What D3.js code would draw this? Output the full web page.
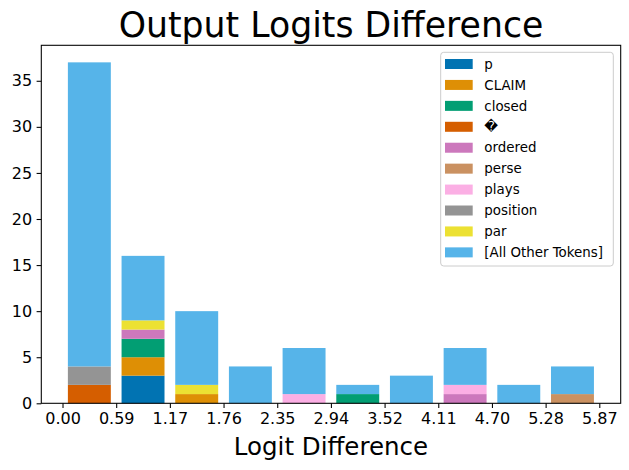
<!DOCTYPE html>
<html>
<head>
<meta charset="utf-8">
<script src="https://cdn.jsdelivr.net/npm/d3@7"></script>
<style>
  body { margin: 0; background: #fff; }
  svg { font-family: "DejaVu Sans", sans-serif; }
</style>
</head>
<body>
<svg width="629" height="470"></svg>
<script>
// bin edges of the logit difference histogram
const binEdges = [0.00, 0.587, 1.174, 1.761, 2.348, 2.935, 3.522, 4.109, 4.696, 5.283, 5.87];
const tickLabels = ["0.00", "0.59", "1.17", "1.76", "2.35", "2.94", "3.52", "4.11", "4.70", "5.28", "5.87"];

// tokens, in stacking order
const tokens = ["p", "CLAIM", "closed", "\uFFFD", "ordered", "perse", "plays", "position", "par", "[All Other Tokens]"];
const colors = ["#0173b2", "#de8f05", "#029e73", "#d55e00", "#cc78bc", "#ca9161", "#fbafe4", "#949494", "#ece133", "#56b4e9"];

// counts per bin for each token
const pCounts        = [0, 3, 0, 0, 0, 0, 0, 0, 0, 0];
const claimCounts    = [0, 2, 1, 0, 0, 0, 0, 0, 0, 0];
const closedCounts   = [0, 2, 0, 0, 0, 1, 0, 0, 0, 0];
const replCounts     = [2, 0, 0, 0, 0, 0, 0, 0, 0, 0];
const orderedCounts  = [0, 1, 0, 0, 0, 0, 0, 1, 0, 0];
const perseCounts    = [0, 0, 0, 0, 0, 0, 0, 0, 0, 1];
const playsCounts    = [0, 0, 0, 0, 1, 0, 0, 1, 0, 0];
const positionCounts = [2, 0, 0, 0, 0, 0, 0, 0, 0, 0];
const parCounts      = [0, 1, 1, 0, 0, 0, 0, 0, 0, 0];
const otherCounts    = [33, 7, 8, 4, 5, 1, 3, 4, 2, 3];

const series = [pCounts, claimCounts, closedCounts, replCounts, orderedCounts,
                perseCounts, playsCounts, positionCounts, parCounts, otherCounts];

const rows = binEdges.slice(0, -1).map((lo, i) => {
  const r = {lo: lo, hi: binEdges[i + 1]};
  tokens.forEach((t, k) => { r[t] = series[k][i]; });
  return r;
});

const svg = d3.select("svg");
const mLeft = 41.3, mRight = 620.7, mTop = 45.3, mBottom = 403.3;

const totals = rows.map(r => d3.sum(tokens, t => r[t]));
const x = d3.scaleLinear().domain([-0.232, 6.104]).range([mLeft, mRight]);
const y = d3.scaleLinear().domain([0, d3.max(totals) * 1.05]).range([mBottom, mTop]);
const color = d3.scaleOrdinal().domain(tokens).range(colors);

const stacked = d3.stack().keys(tokens)(rows);

svg.append("g")
  .selectAll("g")
  .data(stacked)
  .join("g")
    .attr("fill", d => color(d.key))
  .selectAll("rect")
  .data(d => d)
  .join("rect")
    .attr("x", d => x(d.data.lo + (d.data.hi - d.data.lo) * 0.1))
    .attr("width", d => (x(d.data.hi) - x(d.data.lo)) * 0.8)
    .attr("y", d => y(d[1]))
    .attr("height", d => y(d[0]) - y(d[1]));

// axes
const xAxis = d3.axisBottom(x)
  .tickValues(binEdges)
  .tickFormat((d, i) => tickLabels[i])
  .tickSize(4.7).tickPadding(4.5);
const yAxis = d3.axisLeft(y)
  .tickValues([0, 5, 10, 15, 20, 25, 30, 35])
  .tickSize(4.7).tickPadding(4.5);

const gx = svg.append("g").attr("transform", `translate(0,${mBottom})`).call(xAxis);
const gy = svg.append("g").attr("transform", `translate(${mLeft},0)`).call(yAxis);
[gx, gy].forEach(g => {
  g.select(".domain").remove();
  g.selectAll("line").attr("stroke", "#000").attr("stroke-width", 1.07);
  g.selectAll("text").attr("font-size", 16).attr("fill", "#000").attr("font-family", "DejaVu Sans");
});

// frame
svg.append("rect")
  .attr("x", mLeft).attr("y", mTop)
  .attr("width", mRight - mLeft).attr("height", mBottom - mTop)
  .attr("fill", "none").attr("stroke", "#000").attr("stroke-width", 1.07);

// titles
svg.append("text")
  .attr("x", (mLeft + mRight) / 2).attr("y", 37)
  .attr("text-anchor", "middle").attr("font-size", 34.7)
  .text("Output Logits Difference");
svg.append("text")
  .attr("x", (mLeft + mRight) / 2).attr("y", 455)
  .attr("text-anchor", "middle").attr("font-size", 24.5)
  .text("Logit Difference");

// legend
const lg = svg.append("g");
lg.append("rect")
  .attr("x", 440.7).attr("y", 52.3).attr("width", 172.6).attr("height", 213.7)
  .attr("rx", 3).attr("fill", "#fff").attr("fill-opacity", 0.8)
  .attr("stroke", "#cccccc").attr("stroke-width", 1);
const item = lg.selectAll("g.item")
  .data(tokens)
  .join("g")
    .attr("class", "item")
    .attr("transform", (d, i) => `translate(0,${64 + i * 20.93})`);
item.append("rect")
  .attr("x", 445).attr("y", -5).attr("width", 27.7).attr("height", 10)
  .attr("fill", d => color(d));
item.append("text")
  .attr("x", 484.3).attr("y", 4.7)
  .attr("font-size", 13.4)
  .text(d => d);
</script>
</body>
</html>
